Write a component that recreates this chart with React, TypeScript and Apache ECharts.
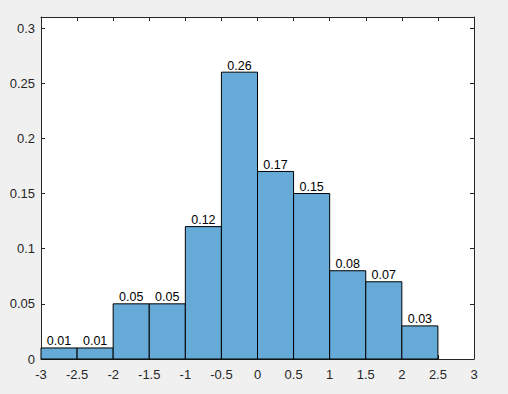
import React, { useEffect, useRef } from "react";
import * as echarts from "echarts";

const binStarts = [-3, -2.5, -2, -1.5, -1, -0.5, 0, 0.5, 1, 1.5, 2];
const binWidth = 0.5;
const probabilities = [0.01, 0.01, 0.05, 0.05, 0.12, 0.26, 0.17, 0.15, 0.08, 0.07, 0.03];

const FONT = '"Liberation Sans", Arial, Helvetica, sans-serif';
const AXIS_COLOR = "#262626";

export default function App() {
  const ref = useRef<HTMLDivElement>(null);
  useEffect(() => {
    document.body.style.margin = "0";
    const chart = echarts.init(ref.current!, null, { renderer: "svg" });
    const data = binStarts.map((s, i) => [s, s + binWidth, probabilities[i]]);
    const xCommon = {
      type: "value" as const,
      min: -3,
      max: 3,
      interval: 0.5,
      splitLine: { show: false },
      axisLine: { show: true, onZero: false, lineStyle: { color: AXIS_COLOR, width: 1 } },
      axisTick: { show: true, inside: true, length: 4, lineStyle: { color: AXIS_COLOR } },
    };
    const yCommon = {
      type: "value" as const,
      min: 0,
      max: 0.31,
      interval: 0.05,
      splitLine: { show: false },
      axisLine: { show: true, onZero: false, lineStyle: { color: AXIS_COLOR, width: 1 } },
      axisTick: { show: true, inside: true, length: 4, lineStyle: { color: AXIS_COLOR } },
    };
    chart.setOption({
      animation: false,
      backgroundColor: "#f0f0f0",
      grid: {
        left: 41,
        right: 34,
        top: 17,
        bottom: 35,
        show: true,
        backgroundColor: "#ffffff",
        borderWidth: 0,
      },
      xAxis: [
        {
          ...xCommon,
          position: "bottom",
          axisLabel: {
            color: AXIS_COLOR,
            fontFamily: FONT,
            fontSize: 13,
            margin: 9,
            formatter: (v: number) => String(v),
          },
        },
        { ...xCommon, position: "top", axisLabel: { show: false } },
      ],
      yAxis: [
        {
          ...yCommon,
          position: "left",
          axisLabel: {
            color: AXIS_COLOR,
            fontFamily: FONT,
            fontSize: 13,
            margin: 6,
            padding: [4, 0, 0, 0],
            showMaxLabel: false,
            formatter: (v: number) => (v > 0.305 ? "" : String(Math.round(v * 100) / 100)),
          },
        },
        { ...yCommon, position: "right", axisLabel: { show: false } },
      ],
      series: [
        {
          type: "custom",
          xAxisIndex: 0,
          yAxisIndex: 0,
          data,
          renderItem: (params: any, api: any) => {
            const x0 = api.value(0);
            const x1 = api.value(1);
            const y = api.value(2);
            const p0 = api.coord([x0, y]);
            const p1 = api.coord([x1, 0]);
            return {
              type: "group",
              children: [
                {
                  type: "rect",
                  shape: { x: p0[0], y: p0[1], width: p1[0] - p0[0], height: p1[1] - p0[1] },
                  style: { fill: "#66aad7", stroke: "#000000", lineWidth: 1 },
                },
                {
                  type: "text",
                  x: (p0[0] + p1[0]) / 2,
                  y: p0[1],
                  style: {
                    text: y.toFixed(2),
                    align: "center",
                    verticalAlign: "bottom",
                    fill: "#000000",
                    fontSize: 12.5,
                    fontFamily: FONT,
                  },
                },
              ],
            };
          },
        },
      ],
    });
    return () => chart.dispose();
  }, []);
  return <div ref={ref} style={{ width: 508, height: 394 }} />;
}
